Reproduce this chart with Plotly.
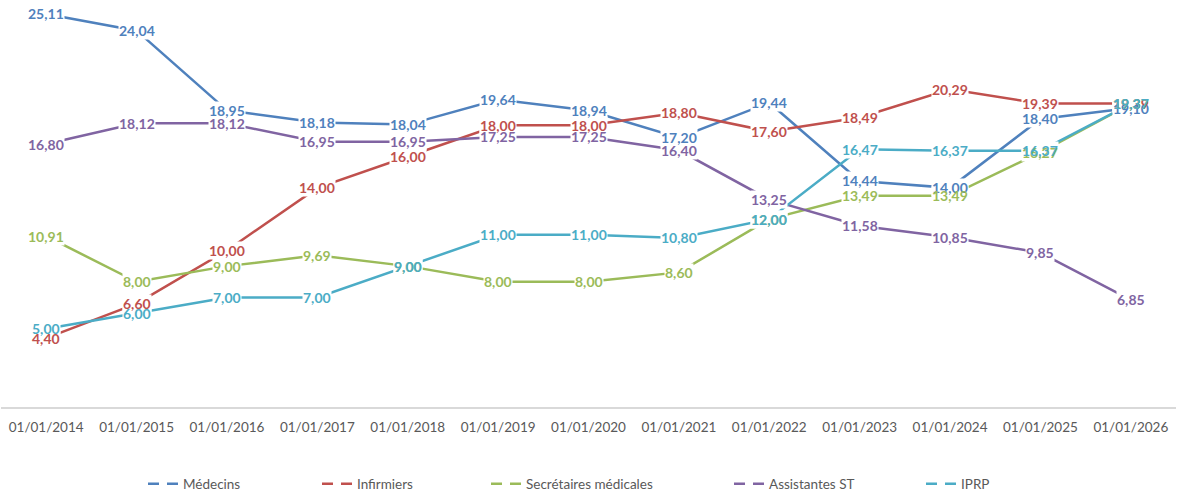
import plotly.graph_objects as go

# ── Data ──────────────────────────────────────────────────────────────────────
dates = ["01/01/2014", "01/01/2015", "01/01/2016", "01/01/2017", "01/01/2018",
         "01/01/2019", "01/01/2020", "01/01/2021", "01/01/2022", "01/01/2023",
         "01/01/2024", "01/01/2025", "01/01/2026"]

medecins = [25.11, 24.04, 18.95, 18.18, 18.04, 19.64, 18.94, 17.20, 19.44,
            14.44, 14.00, 18.40, 19.10]
infirmiers = [4.40, 6.60, 10.00, 14.00, 16.00, 18.00, 18.00, 18.80, 17.60,
              18.49, 20.29, 19.39, 19.39]
secretaires = [10.91, 8.00, 9.00, 9.69, 9.00, 8.00, 8.00, 8.60, 12.00,
               13.49, 13.49, 16.27, 19.37]
assistantes = [16.80, 18.12, 18.12, 16.95, 16.95, 17.25, 17.25, 16.40, 13.25,
               11.58, 10.85, 9.85, 6.85]
iprp = [5.00, 6.00, 7.00, 7.00, 9.00, 11.00, 11.00, 10.80, 12.00,
        16.47, 16.37, 16.37, 19.37]

series = [
    ("Médecins", medecins, "#4F81BD"),
    ("Infirmiers", infirmiers, "#C0504D"),
    ("Secrétaires médicales", secretaires, "#9BBB59"),
    ("Assistantes ST", assistantes, "#8064A2"),
    ("IPRP", iprp, "#4BACC6"),
]

# legend symbol left edge, in px (plot area spans 1..1176)
_LEGEND_PX = [148, 322, 491, 734, 926]

_FONT = "Lato, 'Open Sans', sans-serif"
_W, _H = 1177, 494
_L, _R, _T, _B = 1, 1, 0, 87

fig = go.Figure()

for name, vals, color in series:
    fig.add_trace(go.Scatter(
        x=dates, y=vals, mode="lines",
        line=dict(color=color, width=2.5),
        showlegend=False, hoverinfo="skip",
    ))

# legend-only traces (dashed symbol), one legend each so they can be placed
for i, (name, vals, color) in enumerate(series):
    fig.add_trace(go.Scatter(
        x=[None], y=[None], mode="lines", name=name,
        line=dict(color=color, width=2.5, dash="11px,8px"),
        legend="legend" if i == 0 else f"legend{i+1}",
    ))

# data labels: white boxes first, then the text on top
annos = []
for name, vals, color in series:
    for x, v in zip(dates, vals):
        annos.append(dict(
            x=x, y=v, xref="x", yref="y", showarrow=False,
            text=f"{v:.2f}".replace(".", ","),
            font=dict(family=_FONT, size=14, color="rgba(0,0,0,0)", weight="bold"),
            bgcolor="white", borderpad=0,
        ))
for name, vals, color in series:
    for x, v in zip(dates, vals):
        annos.append(dict(
            x=x, y=v, xref="x", yref="y", showarrow=False,
            text=f"{v:.2f}".replace(".", ","),
            font=dict(family=_FONT, size=14, color=color, weight="bold"),
        ))

plot_w = _W - _L - _R
plot_h = _H - _T - _B

layout_legends = {}
for i, px in enumerate(_LEGEND_PX):
    key = "legend" if i == 0 else f"legend{i+1}"
    layout_legends[key] = dict(
        x=(px - _L - 5) / plot_w, xanchor="left",
        y=(_T + plot_h - 484) / plot_h, yanchor="middle",
        orientation="h",
        font=dict(family=_FONT, size=13.5, color="#595959"),
        bgcolor="rgba(0,0,0,0)", borderwidth=0,
        itemwidth=30,
    )

fig.update_layout(
    width=_W, height=_H,
    paper_bgcolor="white", plot_bgcolor="white",
    margin=dict(l=_L, r=_R, t=_T, b=_B, autoexpand=False),
    annotations=annos,
    font=dict(family=_FONT, color="#595959"),
    **layout_legends,
)
fig.update_xaxes(
    type="category", range=[-0.5, len(dates) - 0.5],
    showgrid=False, zeroline=False,
    showline=True, linecolor="#D9D9D9", linewidth=2,
    ticks="", ticklabelstandoff=7,
    tickfont=dict(family=_FONT, size=13.5, color="#595959"),
)
fig.update_yaxes(range=[0, 26], visible=False, showgrid=False, zeroline=False)

# drop the default page margin so the figure sits at the window's corner
fig.write_html(
    "out.html",
    config={"displayModeBar": False},
    post_script="document.body.style.margin='0';document.body.style.overflow='hidden';",
)
